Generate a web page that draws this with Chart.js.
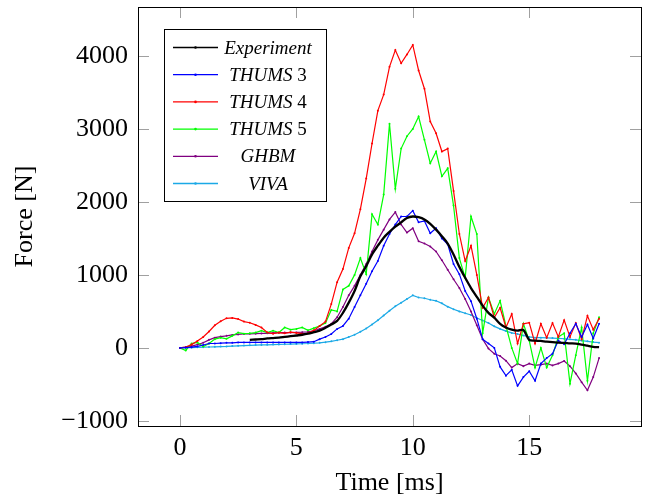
<!DOCTYPE html>
<html>
<head>
<meta charset="utf-8">
<script src="https://cdn.jsdelivr.net/npm/chart.js@4.4.1/dist/chart.umd.min.js"></script>
<style>
  html, body { margin: 0; padding: 0; background: #fff; }
  #grafik { display: block; }
</style>
</head>
<body>
<canvas id="grafik" width="645" height="501"></canvas>
<script>
// time axis of the model curves [ms]
const waktu = [
  0, 0.25, 0.5, 0.75, 1, 1.25, 1.5, 1.75, 2, 2.25, 2.5, 2.75,
  3, 3.25, 3.5, 3.75, 4, 4.25, 4.5, 4.75, 5, 5.25, 5.5, 5.75,
  6, 6.25, 6.5, 6.75, 7, 7.25, 7.5, 7.75, 8, 8.25, 8.5, 8.75,
  9, 9.25, 9.5, 9.75, 10, 10.25, 10.5, 10.75, 11, 11.25, 11.5, 11.75,
  12, 12.25, 12.5, 12.75, 13, 13.25, 13.5, 13.75, 14, 14.25, 14.5, 14.75,
  15, 15.25, 15.5, 15.75, 16, 16.25, 16.5, 16.75, 17, 17.25, 17.5, 17.75, 18
]

// experiment starts later
const waktuEksperimen = [
  3, 3.25, 3.5, 3.75, 4, 4.25, 4.5, 4.75, 5, 5.25, 5.5, 5.75,
  6, 6.25, 6.5, 6.75, 7, 7.25, 7.5, 7.75, 8, 8.25, 8.5, 8.75,
  9, 9.25, 9.5, 9.75, 10, 10.25, 10.5, 10.75, 11, 11.25, 11.5, 11.75,
  12, 12.25, 12.5, 12.75, 13, 13.25, 13.5, 13.75, 14, 14.25, 14.5, 14.75,
  15, 15.25, 15.5, 15.75, 16, 16.25, 16.5, 16.75, 17, 17.25, 17.5, 17.75, 18
]

// force [N]
const gayaEksperimen = [
  110, 115, 120, 130, 135, 140, 150, 160, 170, 180, 195, 215,
  236, 275, 320, 370, 480, 620, 780, 980, 1120, 1280, 1400, 1510,
  1590, 1660, 1720, 1780, 1800, 1790, 1760, 1700, 1620, 1530, 1430, 1280,
  1110, 960, 820, 700, 580, 480, 415, 330, 280, 250, 236, 245,
  110, 100, 95, 85, 80, 72, 68, 62, 58, 45, 30, 15, 10
]

const thums3 = [
  0, 5, 10, 20, 40, 60, 60, 65, 70, 70, 75, 75,
  75, 75, 75, 75, 75, 75, 75, 75, 75, 75, 80, 85,
  120, 150, 190, 260, 300, 400, 560, 720, 880, 1050, 1190, 1400,
  1560, 1690, 1800, 1800, 1880, 1720, 1740, 1570, 1640, 1500, 1420, 1150,
  1010, 780, 640, 400, 120, 60, 0, -260, -380, -300, -520, -400,
  -320, -450, -215, -140, -80, 100, 50, 200, 330, 150, 320, 130, 330
]

const thums4 = [
  0, 10, 45, 95, 150, 225, 310, 365, 405, 410, 395, 360,
  345, 315, 280, 210, 195, 210, 200, 215, 205, 195, 200, 240,
  300, 360, 600, 900, 1080, 1370, 1570, 1900, 2320, 2800, 3250, 3470,
  3850, 4080, 3900, 4020, 4150, 3800, 3550, 3100, 2940, 2690, 2730, 2150,
  1560, 1190, 1400, 1000, 550, 690, 415, 550, 280, 465, 60, 330,
  345, 60, 330, 140, 340, 150, 380, 150, 340, 120, 440, 250, 400
]

const thums5 = [
  0, -35, 60, 75, 20, 60, 120, 140, 125, 165, 210, 195,
  200, 210, 235, 210, 235, 210, 280, 250, 260, 280, 240, 270,
  300, 340, 520, 500, 800, 850, 1000, 1230, 1010, 1830, 1690, 2100,
  3070, 2180, 2730, 2900, 3000, 3170, 2850, 2530, 2690, 2350, 2460, 1950,
  1230, 960, 1800, 1560, 200, 690, 465, 645, 300, 0, -215, 330,
  100, -270, 0, -270, -100, 150, 200, -490, -100, 280, -450, 200, 420
]

const ghbm = [
  0, 10, 25, 45, 70, 110, 140, 155, 165, 178, 185, 190,
  193, 195, 198, 200, 205, 208, 210, 210, 212, 215, 220, 235,
  260, 290, 330, 420, 560, 720, 850, 1000, 1150, 1320, 1480, 1620,
  1760, 1860, 1690, 1580, 1640, 1460, 1430, 1390, 1320, 1200, 1070, 940,
  820, 670, 500, 310, 120, -10, -80, -110, -175, -270, -215, -250,
  -215, -240, -230, -215, -240, -215, -180, -250, -350, -470, -580, -400, -140
]

const viva = [
  0, 2, 5, 8, 10, 12, 15, 18, 20, 25, 28, 32,
  35, 38, 40, 42, 45, 48, 50, 52, 55, 57, 60, 65,
  70, 78, 90, 105, 120, 150, 180, 220, 265, 320, 380, 445,
  510, 570, 620, 670, 720, 690, 680, 660, 645, 610, 565, 530,
  500, 475, 450, 410, 375, 340, 295, 260, 230, 205, 190, 170,
  150, 140, 140, 138, 135, 130, 125, 118, 110, 100, 90, 80, 72
]

const labelSeri = ['Experiment', 'THUMS 3', 'THUMS 4', 'THUMS 5', 'GHBM', 'VIVA']
const warnaSeri = ['#000000', '#0000ff', '#ff0000', '#00ff00', '#800080', '#1ba9e6']

const tickX = [0, 5, 10, 15]
const tickY = [-1000, 0, 1000, 2000, 3000, 4000]

const fontSerif = '"Liberation Serif", "Times New Roman", serif'

const gabung = (xs, ys) => xs.map((x, i) => ({ x: x, y: ys[i] }))

const seri = [
  gabung(waktuEksperimen, gayaEksperimen),
  gabung(waktu, thums3),
  gabung(waktu, thums4),
  gabung(waktu, thums5),
  gabung(waktu, ghbm),
  gabung(waktu, viva)
]

// box round the plot and the small grey ticks on all four sides
const kotakPlugin = {
  id: 'kotak',
  afterDraw(chart) {
    const ctx = chart.ctx
    const a = chart.chartArea
    const sx = chart.scales.x
    const sy = chart.scales.y
    const pj = 11
    ctx.save()
    ctx.strokeStyle = '#a0a0a0'
    ctx.lineWidth = 1
    ctx.beginPath()
    tickX.forEach(v => {
      const px = Math.round(sx.getPixelForValue(v)) + 0.5
      ctx.moveTo(px, a.bottom); ctx.lineTo(px, a.bottom - pj)
      ctx.moveTo(px, a.top); ctx.lineTo(px, a.top + pj)
    })
    tickY.forEach(v => {
      const py = Math.round(sy.getPixelForValue(v)) + 0.5
      ctx.moveTo(a.left, py); ctx.lineTo(a.left + pj, py)
      ctx.moveTo(a.right, py); ctx.lineTo(a.right - pj, py)
    })
    ctx.stroke()
    ctx.strokeStyle = '#000'
    ctx.strokeRect(Math.round(a.left) + 0.5, Math.round(a.top) + 0.5,
      Math.round(a.right - a.left), Math.round(a.bottom - a.top))
    ctx.restore()
  }
}

// legend drawn by hand: centred italic names, line sample with a dot
const legendaPlugin = {
  id: 'legenda',
  afterDraw(chart) {
    const ctx = chart.ctx
    const kiri = 164.5, atas = 29.5, lebar = 162, tinggi = 172
    ctx.save()
    ctx.fillStyle = '#fff'
    ctx.fillRect(kiri, atas, lebar, tinggi)
    ctx.strokeStyle = '#000'
    ctx.lineWidth = 1
    ctx.strokeRect(kiri, atas, lebar, tinggi)
    labelSeri.forEach((nama, i) => {
      const y = 47.5 + i * 27.2
      ctx.strokeStyle = warnaSeri[i]
      ctx.lineWidth = 1.3
      ctx.beginPath()
      ctx.moveTo(173, y); ctx.lineTo(218, y)
      ctx.stroke()
      ctx.fillStyle = warnaSeri[i]
      ctx.beginPath()
      ctx.arc(195.5, y, 1.3, 0, Math.PI * 2)
      ctx.fill()

      const bagian = nama.split(' ')
      const fontMiring = 'italic 19px ' + fontSerif
      const fontTegak = '19px ' + fontSerif
      ctx.font = fontMiring
      const w1 = ctx.measureText(bagian[0]).width
      let w2 = 0
      if (bagian[1]) {
        ctx.font = fontTegak
        w2 = ctx.measureText(' ' + bagian[1]).width
      }
      const x0 = 268 - (w1 + w2) / 2
      ctx.fillStyle = '#000'
      ctx.textBaseline = 'middle'
      ctx.textAlign = 'left'
      ctx.font = fontMiring
      ctx.fillText(bagian[0], x0, y + 1)
      if (bagian[1]) {
        ctx.font = fontTegak
        ctx.fillText(' ' + bagian[1], x0 + w1, y + 1)
      }
    })
    ctx.restore()
  }
}

// no extra padding from the tick labels, the plot box is fixed
const tanpaPadding = s => {
  s.paddingTop = 0
  s.paddingBottom = 0
  s.paddingLeft = 0
  s.paddingRight = 0
}

const ctx = document.getElementById('grafik').getContext('2d')
const grafik = new Chart(ctx, {
  type: 'line',
  data: {
    datasets: seri.map((d, i) => ({
      label: labelSeri[i],
      data: d,
      borderColor: warnaSeri[i],
      backgroundColor: warnaSeri[i],
      borderWidth: i === 0 ? 2.3 : 1.2,
      pointRadius: i === 0 ? 0 : 1,
      pointBorderWidth: 0,
      tension: i === 0 ? 0.3 : 0,
      fill: false
    }))
  },
  options: {
    responsive: false,
    animation: false,
    devicePixelRatio: 1,
    layout: { padding: { top: 7, right: 3, left: 0, bottom: 0 } },
    plugins: {
      legend: { display: false },
      tooltip: { enabled: false }
    },
    scales: {
      x: {
        type: 'linear',
        min: -1.8,
        max: 19.8,
        grid: { display: false, drawTicks: false },
        border: { display: false },
        afterBuildTicks: s => { s.ticks = tickX.map(v => ({ value: v })) },
        afterFit: s => { s.height = 75; tanpaPadding(s) },
        ticks: {
          padding: 7,
          color: '#000',
          font: { family: fontSerif, size: 26 },
          maxRotation: 0
        },
        title: {
          display: true,
          text: 'Time [ms]',
          color: '#000',
          font: { family: fontSerif, size: 26 },
          padding: { top: 0, bottom: 2 }
        }
      },
      y: {
        type: 'linear',
        min: -1070,
        max: 4670,
        grid: { display: false, drawTicks: false },
        border: { display: false },
        afterBuildTicks: s => { s.ticks = tickY.map(v => ({ value: v })) },
        afterFit: s => { s.width = 138; tanpaPadding(s) },
        ticks: {
          padding: 10,
          color: '#000',
          font: { family: fontSerif, size: 26 },
          callback: v => (v < 0 ? '\u2212' + Math.abs(v) : String(v))
        },
        title: {
          display: true,
          text: 'Force [N]',
          color: '#000',
          font: { family: fontSerif, size: 26 },
          padding: { top: 10, bottom: 0 }
        }
      }
    }
  },
  plugins: [kotakPlugin, legendaPlugin]
})
</script>
</body>
</html>
